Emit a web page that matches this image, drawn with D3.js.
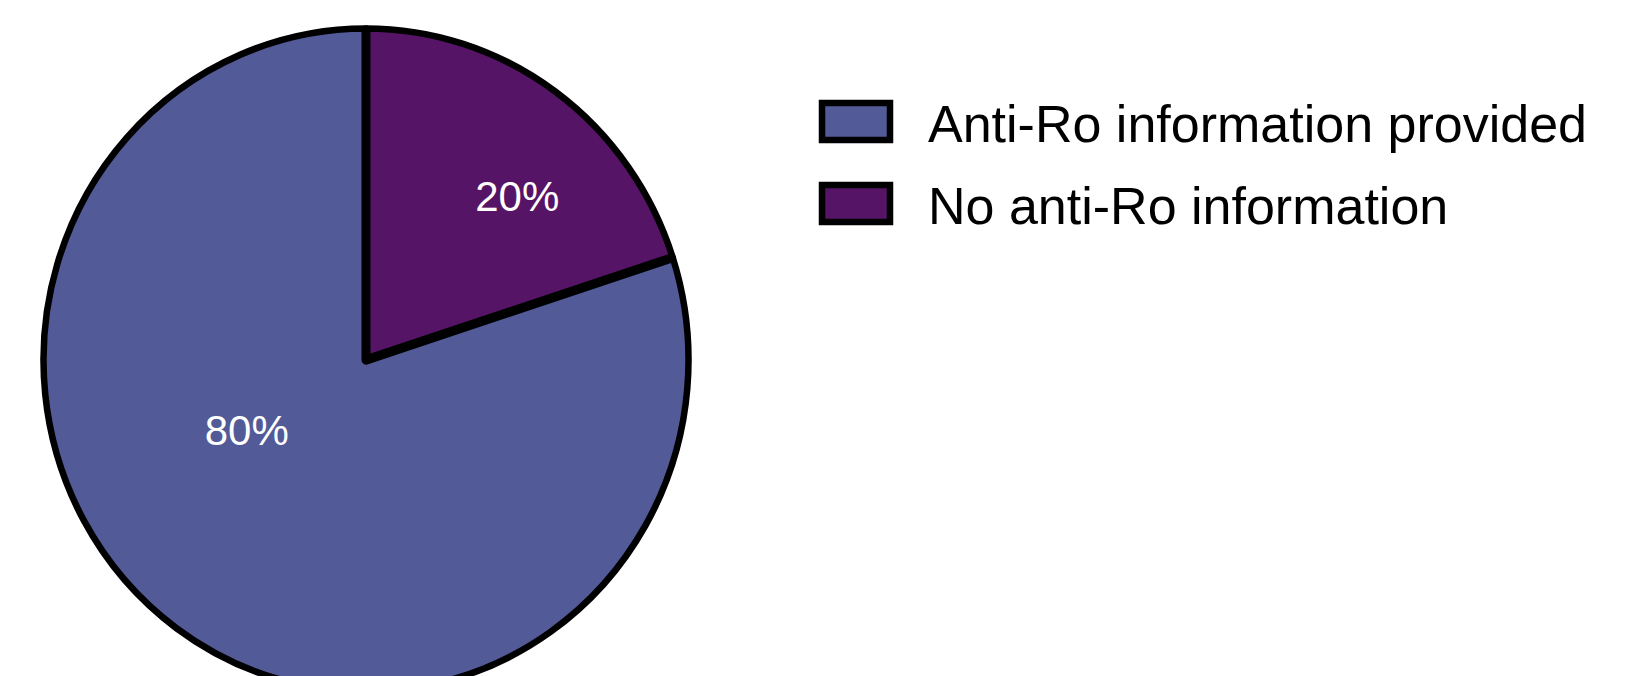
<!DOCTYPE html>
<html>
<head>
<meta charset="utf-8">
<script src="https://cdn.jsdelivr.net/npm/d3@7"></script>
<style>
  html, body { margin: 0; padding: 0; background: #ffffff; }
  svg { display: block; }
</style>
</head>
<body>
<svg id="chart" width="1631" height="676"></svg>
<script>
// Share of records by anti-Ro information status
const categories = ["Anti-Ro information provided", "No anti-Ro information"];
const values = [80, 20];
const valueLabels = ["80%", "20%"];
const colors = ["#525a98", "#561466"];

// Layout
const W = 1631, H = 676;
const cx = 366, cy = 360;
const rx = 322.5, ry = 331.5;          // the pie is drawn slightly taller than wide
const fontFamily = "'Liberation Sans', Arial, Helvetica, sans-serif";

// Where each percentage label sits: angle (deg, clockwise from 12 o'clock) and distance
const labelPlacement = [
  { angle: 239.4, dist: 138.5 },
  { angle: 42.7, dist: 223 }
];

const svg = d3.select("#chart");

const total = d3.sum(values);
const start = -2 * Math.PI * values[0] / total;   // second slice begins at 12 o'clock

const pie = d3.pie()
  .sort(null)
  .value(d => d)
  .startAngle(start)
  .endAngle(start + 2 * Math.PI);

const arcs = pie(values);
const arc = d3.arc().innerRadius(0).outerRadius(rx);

const g = svg.append("g")
  .attr("transform", `translate(${cx},${cy}) scale(1,${ry / rx})`);

g.selectAll("path.slice")
  .data(arcs)
  .join("path")
  .attr("class", "slice")
  .attr("d", arc)
  .attr("fill", (d, i) => colors[i])
  .attr("stroke", "#000")
  .attr("stroke-width", 6.5)
  .attr("stroke-linejoin", "round");

// Radial slice boundaries, drawn a little heavier than the rim
const boundaryAngles = [arcs[1].startAngle, arcs[1].endAngle];
const p0 = d3.pointRadial(boundaryAngles[0], rx);
const p1 = d3.pointRadial(boundaryAngles[1], rx);
g.append("path")
  .attr("d", d3.line()([p0, [0, 0], p1]))
  .attr("fill", "none")
  .attr("stroke", "#000")
  .attr("stroke-width", 9)
  .attr("stroke-linejoin", "round")
  .attr("stroke-linecap", "butt");

// Percentage labels
svg.selectAll("text.pct")
  .data(arcs)
  .join("text")
  .attr("class", "pct")
  .attr("x", (d, i) => cx + d3.pointRadial(labelPlacement[i].angle * Math.PI / 180, labelPlacement[i].dist)[0])
  .attr("y", (d, i) => cy + d3.pointRadial(labelPlacement[i].angle * Math.PI / 180, labelPlacement[i].dist)[1])
  .attr("text-anchor", "middle")
  .attr("dominant-baseline", "central")
  .attr("fill", "#ffffff")
  .attr("font-family", fontFamily)
  .attr("font-size", 42)
  .text((d, i) => valueLabels[i]);

// Legend
const legendY = d3.scalePoint().domain(categories).range([121.5, 203.5]);
const legend = svg.append("g");
const items = legend.selectAll("g.item")
  .data(categories)
  .join("g")
  .attr("class", "item")
  .attr("transform", d => `translate(0,${legendY(d)})`);

items.append("rect")
  .attr("x", 822)
  .attr("y", -18.5)
  .attr("width", 68)
  .attr("height", 37)
  .attr("fill", (d, i) => colors[i])
  .attr("stroke", "#000")
  .attr("stroke-width", 6.5);

items.append("text")
  .attr("x", 928)
  .attr("y", 20)
  .attr("fill", "#000")
  .attr("font-family", fontFamily)
  .attr("font-size", 52)
  .text(d => d);
</script>
</body>
</html>
